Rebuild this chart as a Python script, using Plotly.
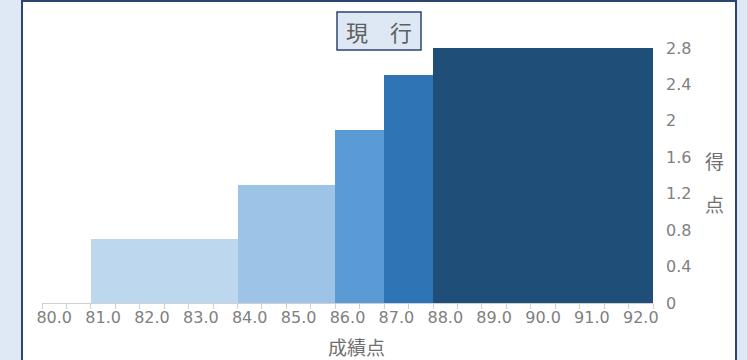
import plotly.graph_objects as go

# ---- data ----
categories = ["80.0", "80.5", "81.0", "81.5", "82.0", "82.5", "83.0", "83.5",
              "84.0", "84.5", "85.0", "85.5", "86.0", "86.5", "87.0", "87.5",
              "88.0", "88.5", "89.0", "89.5", "90.0", "90.5", "91.0", "91.5", "92.0"]
scores = [0, 0, 0.7, 0.7, 0.7, 0.7, 0.7, 0.7,
          1.3, 1.3, 1.3, 1.3, 1.9, 1.9, 2.5, 2.5,
          2.8, 2.8, 2.8, 2.8, 2.8, 2.8, 2.8, 2.8, 2.8]
tick_labels = ["80.0", "", "81.0", "", "82.0", "", "83.0", "", "84.0", "", "85.0", "",
               "86.0", "", "87.0", "", "88.0", "", "89.0", "", "90.0", "", "91.0", "", "92.0"]
y_ticks = [0, 0.4, 0.8, 1.2, 1.6, 2.0, 2.4, 2.8]
y_tick_labels = ["0", "0.4", "0.8", "1.2", "1.6", "2", "2.4", "2.8"]
title_text = "現　行"
x_title = "成績点"
y_title_chars = ["得", "点"]

# ---- styles ----
level_colors = {0: "#bdd7ee", 0.7: "#bdd7ee", 1.3: "#9dc3e6", 1.9: "#5b9bd5",
                2.5: "#2e75b6", 2.8: "#1f4e79"}
bar_colors = [level_colors[v] for v in scores]

W, H = 747, 360
L, R, T, B = 42, 653, 48, 303  # plot area in pixels
pw, ph = R - L, B - T

def px(x):
    return (x - L) / pw

def py(y):
    return (B - y) / ph

FONT = "DejaVu Sans, Noto Sans CJK JP, sans-serif"
CJK = "Noto Sans CJK JP, sans-serif"
GREY = "#808080"

fig = go.Figure(go.Bar(
    x=categories, y=scores,
    marker=dict(color=bar_colors, line=dict(width=0)),
    hoverinfo="x+y",
))

fig.update_layout(
    width=W, height=H, autosize=False,
    margin=dict(l=L, r=W - R, t=T, b=H - B, pad=0),
    paper_bgcolor="#dee9f5",
    plot_bgcolor="rgba(0,0,0,0)",
    bargap=0,
    showlegend=False,
    font=dict(family=FONT, color=GREY),
    xaxis=dict(
        type="category",
        tickson="boundaries",
        tickmode="array",
        tickvals=categories,
        ticktext=tick_labels,
        ticks="outside", ticklen=5, tickcolor="#d0d0d0", tickwidth=1,
        showline=True, linecolor="#d0d0d0", linewidth=1,
        showgrid=False, zeroline=False,
        tickangle=0,
        tickfont=dict(family=FONT, size=16, color=GREY),
        range=[-0.5, len(categories) - 0.5],
    ),
    yaxis=dict(
        side="right",
        range=[0, 2.8],
        tickmode="array",
        tickvals=y_ticks,
        ticktext=y_tick_labels,
        ticks="",
        ticklabelstandoff=12,
        showline=False, showgrid=False, zeroline=False,
        tickfont=dict(family=FONT, size=16, color=GREY),
    ),
    shapes=[
        # white panel with dark border
        dict(type="rect", xref="paper", yref="paper",
             x0=px(22), x1=px(736), y0=py(372), y1=py(1),
             fillcolor="white", line=dict(color="#2b4470", width=2), layer="below"),
        # title box
        dict(type="rect", xref="paper", yref="paper",
             x0=px(337), x1=px(421), y0=py(50), y1=py(12),
             fillcolor="#dde8f4", line=dict(color="#2b4470", width=1.5), layer="above"),
    ],
    annotations=[
        dict(text=title_text, xref="paper", yref="paper", x=px(379), y=py(31),
             showarrow=False, xanchor="center", yanchor="middle",
             font=dict(family=CJK, size=22, color="#5f5f5f")),
        dict(text=x_title, xref="paper", yref="paper", x=px(356), y=py(346),
             showarrow=False, xanchor="center", yanchor="middle",
             font=dict(family=CJK, size=19, color="#707070")),
        dict(text=y_title_chars[0], xref="paper", yref="paper", x=px(714), y=py(160),
             showarrow=False, xanchor="center", yanchor="middle",
             font=dict(family=CJK, size=19, color="#707070")),
        dict(text=y_title_chars[1], xref="paper", yref="paper", x=px(714), y=py(203),
             showarrow=False, xanchor="center", yanchor="middle",
             font=dict(family=CJK, size=19, color="#707070")),
    ],
)

fig.write_html("out.html")
